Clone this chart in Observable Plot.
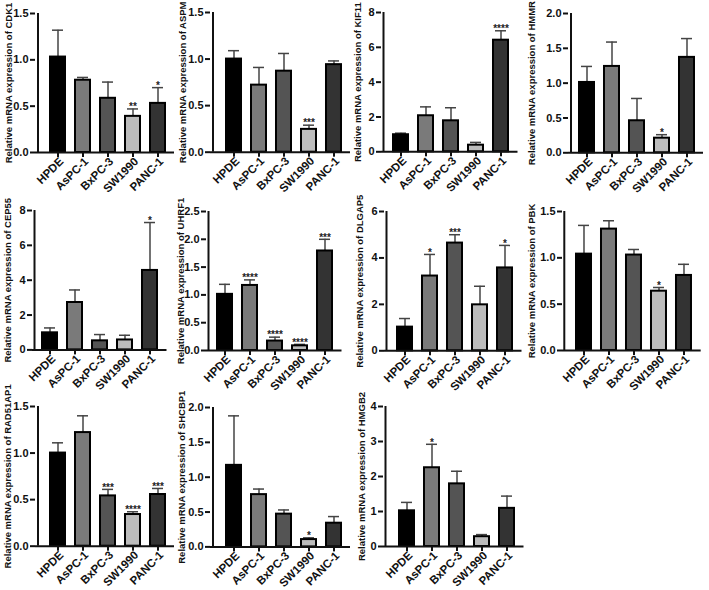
<!DOCTYPE html>
<html><head><meta charset="utf-8">
<script src="https://cdn.jsdelivr.net/npm/d3@7"></script>
<script src="https://cdn.jsdelivr.net/npm/@observablehq/plot@0.6"></script>
<style>
body{margin:0;background:#fff;}
#wrap{position:relative;width:709px;height:590px;overflow:hidden;background:#fff;}
#wrap svg{position:absolute;overflow:visible;}
</style></head><body><div id="wrap"></div>
<script>
const cellLines = ["HPDE","AsPC-1","BxPC-3","SW1990","PANC-1"];
const barColors = ["#000000","#7a7a7a","#545454","#bcbcbc","#333333"];
const genes = ["CDK1","ASPM","KIF11","HMMR","CEP55","UHRF1","DLGAP5","PBK","RAD51AP1","SHCBP1","HMGB2"];

const cdk1Mean = [1.03,0.78,0.585,0.39,0.53];
const cdk1Upper = [1.32,0.81,0.76,0.47,0.70];
const cdk1Stars = ["","","","**","*"];
const cdk1Ticks = [0,0.5,1.0,1.5];

const aspmMean = [1.0,0.72,0.87,0.245,0.94];
const aspmUpper = [1.09,0.91,1.06,0.29,0.98];
const aspmStars = ["","","","***",""];
const aspmTicks = [0,0.5,1.0,1.5];

const kif11Mean = [0.98,2.07,1.78,0.38,6.41];
const kif11Upper = [1.07,2.58,2.53,0.54,6.95];
const kif11Stars = ["","","","","****"];
const kif11Ticks = [0,2,4,6,8];

const hmmrMean = [1.01,1.24,0.46,0.21,1.37];
const hmmrUpper = [1.24,1.59,0.78,0.26,1.64];
const hmmrStars = ["","","","*",""];
const hmmrTicks = [0,0.5,1.0,1.5,2.0];

const cep55Mean = [0.98,2.72,0.52,0.57,4.56];
const cep55Upper = [1.26,3.44,0.88,0.84,7.31];
const cep55Stars = ["","","","","*"];
const cep55Ticks = [0,2,4,6,8];

const uhrf1Mean = [1.01,1.17,0.17,0.084,1.79];
const uhrf1Upper = [1.19,1.27,0.24,0.11,2.0];
const uhrf1Stars = ["","****","****","****","***"];
const uhrf1Ticks = [0,0.5,1.0,1.5,2.0,2.5];

const dlgap5Mean = [1.02,3.22,4.64,1.98,3.57];
const dlgap5Upper = [1.39,4.15,5.0,2.78,4.54];
const dlgap5Stars = ["","*","***","","*"];
const dlgap5Ticks = [0,2,4,6];

const pbkMean = [1.04,1.31,1.03,0.64,0.81];
const pbkUpper = [1.35,1.40,1.09,0.68,0.93];
const pbkStars = ["","","","*",""];
const pbkTicks = [0,0.5,1.0,1.5];

const rad51ap1Mean = [1.0,1.22,0.54,0.34,0.555];
const rad51ap1Upper = [1.11,1.40,0.61,0.37,0.62];
const rad51ap1Stars = ["","","***","****","***"];
const rad51ap1Ticks = [0,0.5,1.0,1.5];

const shcbp1Mean = [1.17,0.75,0.47,0.105,0.34];
const shcbp1Upper = [1.88,0.83,0.53,0.13,0.435];
const shcbp1Stars = ["","","","*",""];
const shcbp1Ticks = [0,0.5,1.0,1.5,2.0];

const hmgb2Mean = [1.02,2.25,1.79,0.28,1.09];
const hmgb2Upper = [1.26,2.92,2.15,0.34,1.44];
const hmgb2Stars = ["","*","","",""];
const hmgb2Ticks = [0,1,2,3,4];

const panelData = [
  [cdk1Mean,cdk1Upper,cdk1Stars,cdk1Ticks,".1f"],
  [aspmMean,aspmUpper,aspmStars,aspmTicks,".1f"],
  [kif11Mean,kif11Upper,kif11Stars,kif11Ticks,"d"],
  [hmmrMean,hmmrUpper,hmmrStars,hmmrTicks,".1f"],
  [cep55Mean,cep55Upper,cep55Stars,cep55Ticks,"d"],
  [uhrf1Mean,uhrf1Upper,uhrf1Stars,uhrf1Ticks,".1f"],
  [dlgap5Mean,dlgap5Upper,dlgap5Stars,dlgap5Ticks,"d"],
  [pbkMean,pbkUpper,pbkStars,pbkTicks,".1f"],
  [rad51ap1Mean,rad51ap1Upper,rad51ap1Stars,rad51ap1Ticks,".1f"],
  [shcbp1Mean,shcbp1Upper,shcbp1Stars,shcbp1Ticks,".1f"],
  [hmgb2Mean,hmgb2Upper,hmgb2Stars,hmgb2Ticks,"d"]
];

// layout: axisX, yTop, yBottom, firstBarOffset, labelDx
const layout = [
  [35,13,152,20,-27],
  [210,12.3,152,21,-28],
  [381,11.7,151,17.5,-24],
  [567.7,13,152.3,16,-37],
  [31.7,210.3,349.7,15.5,-25],
  [206,211,350,16.5,-26],
  [384.3,210.7,350,18.5,-25],
  [562.3,210.7,349.7,19.7,-30.5],
  [35,406,545.7,20,-27.5],
  [210,407.3,546.7,21,-29],
  [383.3,405.7,545.7,21.5,-21.5]
];

const wrap = document.getElementById("wrap");
const ML = 45, MT = 15, MR = 4, STEP = 26, PAD = 0.42;

genes.forEach((g, k) => {
  const [means, uppers, stars, ticks, fmt] = panelData[k];
  const [axisX, yTop, yBottom, first, labelDx] = layout[k];
  const rows = cellLines.map((c, i) => ({cell: c, mean: means[i], upper: uppers[i], sig: stars[i]}));
  const ymax = ticks[ticks.length - 1];
  const xEnd = first + 4 * STEP + 15;
  const width = ML + xEnd + MR;
  const MB = 43;
  const height = MT + (yBottom - yTop) + MB;
  const a = ML + first - STEP * (1 + PAD) / 2;
  const b = a + STEP * (5 + PAD);
  const svg = Plot.plot({
    width, height,
    marginLeft: ML, marginTop: MT, marginBottom: MB, marginRight: MR,
    x: {type: "band", domain: cellLines, range: [a, b], padding: PAD, axis: null},
    y: {domain: [0, ymax], axis: null},
    color: {domain: cellLines, range: barColors},
    style: {fontFamily: "'Liberation Sans', Arial, sans-serif", fontWeight: "bold", overflow: "visible", background: "transparent", color: "#111"},
    marks: [
      Plot.ruleX(rows, {x: "cell", y1: "mean", y2: "upper", stroke: "#444", strokeWidth: 1.5}),
      Plot.tickY(rows, {x: "cell", y: "upper", stroke: "#444", strokeWidth: 1.5, insetLeft: 2, insetRight: 2}),
      Plot.barY(rows, {x: "cell", y: "mean", fill: "cell", stroke: "#000", strokeWidth: 2}),
      Plot.text(rows, {x: "cell", y: "upper", text: "sig", fontSize: 10, fontWeight: "bold", lineAnchor: "middle", dy: -2, fill: "#222"}),
      Plot.ruleY([0], {stroke: "#111", strokeWidth: 2}),
      Plot.ruleX([cellLines[0]], {x: d => d, y1: 0, y2: ymax, dx: -first, stroke: "#111", strokeWidth: 2}),
      Plot.axisY({ticks, tickFormat: d3.format(fmt), tickSize: 5, tickPadding: 2, fontSize: 11, fontWeight: "bold", strokeWidth: 2, label: null}),
      Plot.axisX({tickFormat: () => "", tickSize: 5, strokeWidth: 2, label: null}),
      Plot.axisX({tickRotate: -45, tickSize: 0, tickPadding: 7, dx: 3.5, fontSize: 11.5, fontWeight: "bold", label: null}),
      Plot.text(["Relative mRNA expression of " + g], {frameAnchor: "left", textAnchor: "middle", rotate: -90, dx: labelDx, text: d => d, fontSize: 9.5, fontWeight: "bold", fill: "#111"})
    ]
  });
  svg.style.left = (axisX - ML) + "px";
  svg.style.top = (yTop - MT) + "px";
  wrap.appendChild(svg);
});
</script></body></html>
